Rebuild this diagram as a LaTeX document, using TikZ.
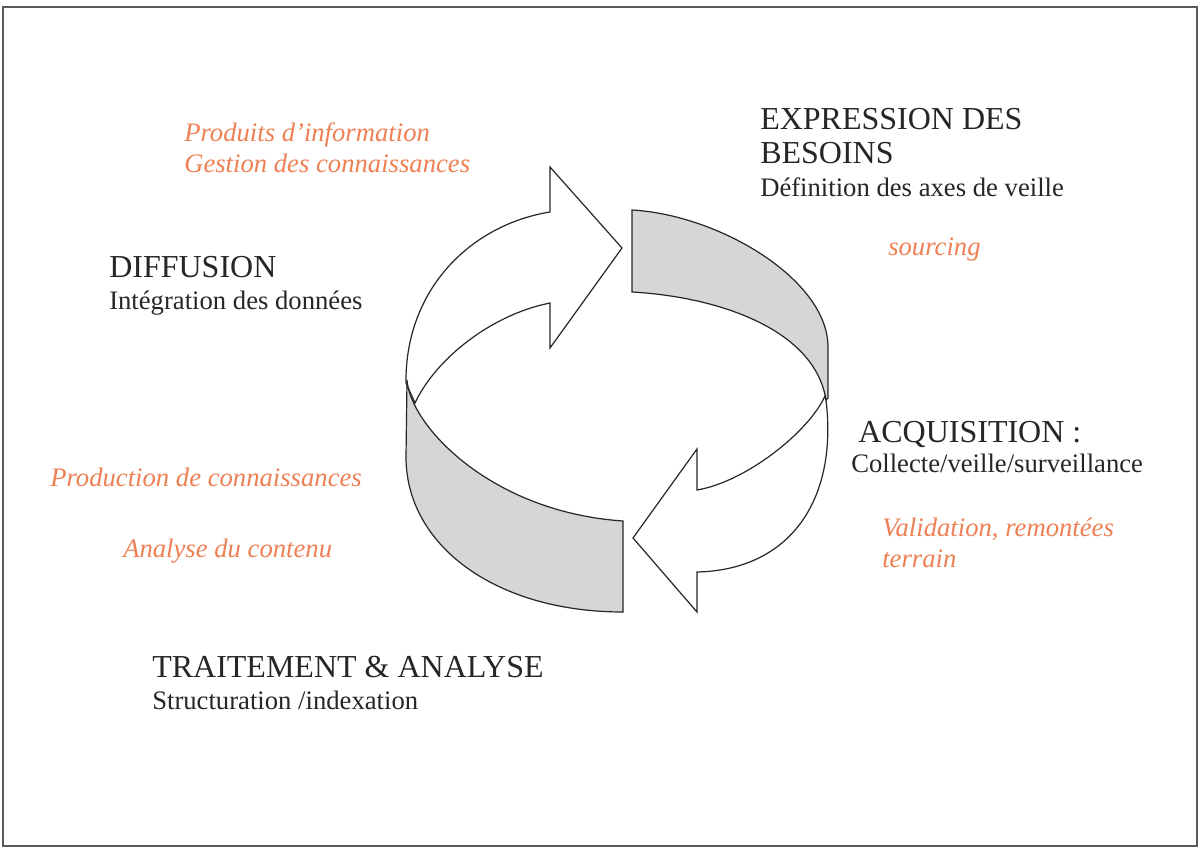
\documentclass[tikz,border=0pt]{standalone}
\usepackage{fontspec}
\setmainfont{Liberation Serif}
\definecolor{orangetxt}{RGB}{238,128,84}
\definecolor{bandgrey}{RGB}{214,214,214}
\definecolor{framegrey}{RGB}{90,90,90}
\begin{document}
\begin{tikzpicture}[x=0.75pt,y=-0.75pt,
  head/.style={anchor=base west,inner sep=0pt,font=\fontsize{24}{28}\selectfont,text=black!85},
  sub/.style={anchor=base west,inner sep=0pt,font=\fontsize{20}{24}\selectfont,text=black!85},
  note/.style={anchor=base west,inner sep=0pt,font=\fontsize{20}{24}\selectfont\itshape,text=orangetxt},
  outlinestyle/.style={draw=black!85,line width=0.9pt,line join=miter},
  whiteshape/.style={outlinestyle,fill=white},
  greyshape/.style={outlinestyle,fill=bandgrey}]
\useasboundingbox (0,0) rectangle (1200,848);
\fill[white] (0,0) rectangle (1200,848);
\draw[framegrey,line width=1.1pt] (3,7) rectangle (1197,846);

% upper white arrow
\draw[whiteshape] (406,383) .. controls (405,290) and (470,225) .. (550,212)
  -- (550,167) -- (622,248) -- (550,348) -- (550,303)
  .. controls (490,315) and (435,360) .. (415,403) -- cycle;
% lower white arrow
\draw[whiteshape] (826,400) .. controls (838,500) and (790,570) .. (697,572)
  -- (697,612) -- (633,538) -- (697,449) -- (697,490)
  .. controls (745,482) and (808,433) .. (825,396) -- cycle;
% grey band top right
\draw[greyshape] (632,210) .. controls (720,215) and (828,280) .. (828,347)
  -- (828,398) -- (826,400) .. controls (815,330) and (720,297) .. (632,292) -- cycle;
% grey band lower left
\draw[greyshape] (407,380) .. controls (410,425) and (490,512) .. (623,521)
  -- (623,612) .. controls (495,612) and (406,545) .. (406,457) -- cycle;

% texts
\node[note] (prod) at (184,142) {Produits d’information};
\node[note] (gest) at (184,173) {Gestion des connaissances};

\node[head] (expr1) at (760,130) {EXPRESSION DES};
\node[head] (expr2) at (760,164) {BESOINS};
\node[sub] (defi) at (760,197) {Définition des axes de veille};
\node[note] (sourc) at (888,256) {sourcing};

\node[head] (diff) at (109,278) {DIFFUSION};
\node[sub] (integ) at (109,310) {Intégration des données};

\node[head] (acq) at (858,443) {ACQUISITION :};
\node[sub] (coll) at (851,473) {Collecte/veille/surveillance};

\node[note] (prodc) at (50,487) {Production de connaissances};
\node[note] (analy) at (123,557) {Analyse du contenu};

\node[note] (valid) at (882,537) {Validation, remontées};
\node[note] (terr) at (882,567) {terrain};

\node[head] (trait) at (152,677) {TRAITEMENT \& ANALYSE};
\node[sub] (struc) at (152,709) {Structuration /indexation};
\end{tikzpicture}
\end{document}
